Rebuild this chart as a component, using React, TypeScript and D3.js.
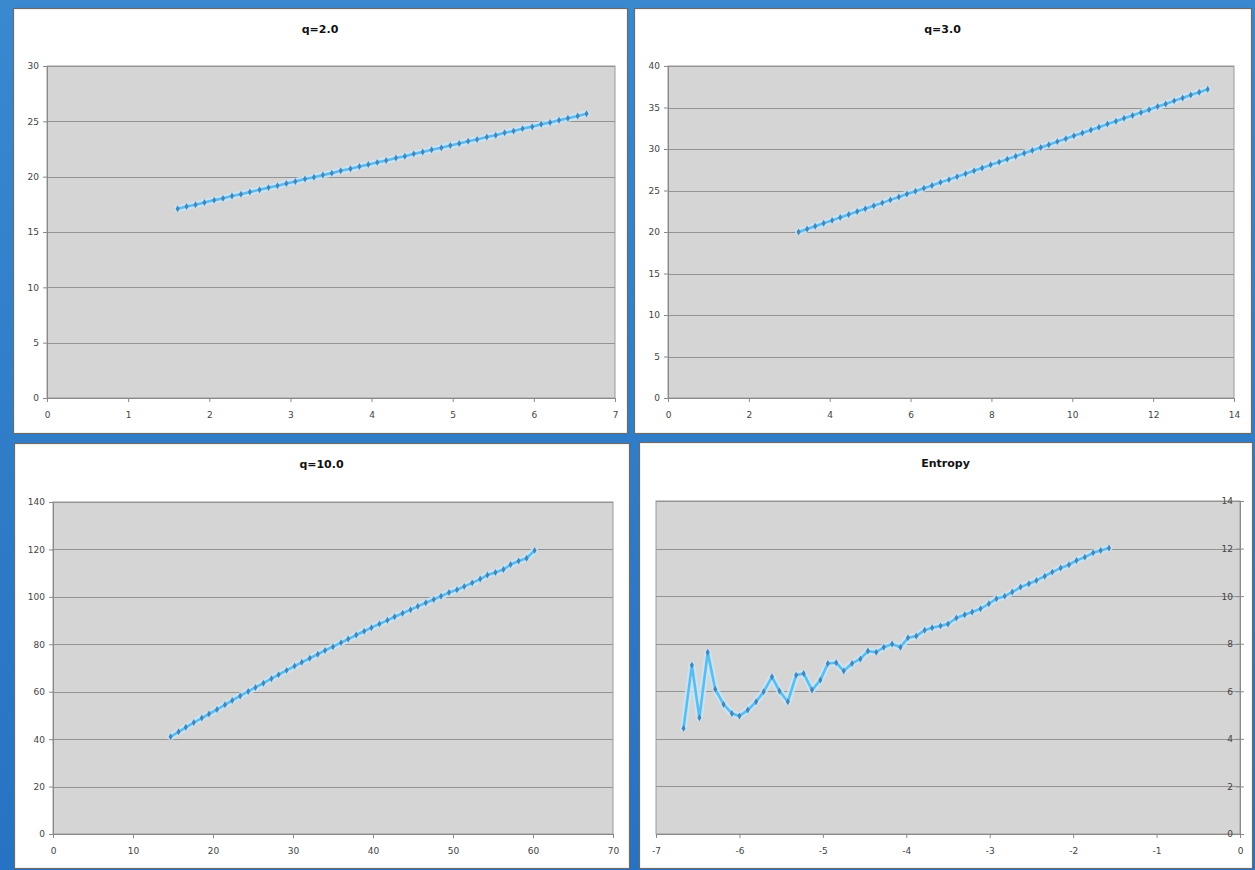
import React, { useEffect, useRef } from 'react';
import * as d3 from 'd3';

// q=2.0
const q2X = [1.61, 1.72, 1.83, 1.94, 2.06, 2.17, 2.28, 2.39, 2.50, 2.62, 2.73, 2.84, 2.95, 3.06, 3.18, 3.29, 3.40, 3.51, 3.62, 3.74, 3.85, 3.96, 4.07, 4.18, 4.30, 4.41, 4.52, 4.63, 4.74, 4.86, 4.97, 5.08, 5.19, 5.30, 5.42, 5.53, 5.64, 5.75, 5.86, 5.98, 6.09, 6.20, 6.31, 6.42, 6.54, 6.65];
const q2Y = [17.10, 17.30, 17.46, 17.66, 17.88, 18.04, 18.25, 18.42, 18.62, 18.81, 19.01, 19.18, 19.39, 19.56, 19.78, 19.95, 20.15, 20.32, 20.53, 20.71, 20.92, 21.09, 21.29, 21.46, 21.68, 21.85, 22.06, 22.22, 22.43, 22.62, 22.82, 22.99, 23.20, 23.36, 23.59, 23.75, 23.96, 24.13, 24.34, 24.52, 24.73, 24.89, 25.10, 25.27, 25.49, 25.68];

// q=3.0
const q3X = [3.23, 3.44, 3.64, 3.85, 4.06, 4.26, 4.47, 4.68, 4.88, 5.09, 5.30, 5.50, 5.71, 5.91, 6.12, 6.33, 6.53, 6.74, 6.95, 7.15, 7.36, 7.57, 7.77, 7.98, 8.19, 8.39, 8.60, 8.81, 9.01, 9.22, 9.42, 9.63, 9.84, 10.04, 10.25, 10.46, 10.66, 10.87, 11.08, 11.28, 11.49, 11.70, 11.90, 12.11, 12.31, 12.52, 12.73, 12.93, 13.14, 13.35];
const q3Y = [20.00, 20.37, 20.69, 21.06, 21.40, 21.76, 22.10, 22.48, 22.80, 23.17, 23.51, 23.87, 24.21, 24.57, 24.90, 25.28, 25.60, 25.98, 26.31, 26.67, 27.01, 27.39, 27.71, 28.09, 28.42, 28.78, 29.12, 29.50, 29.82, 30.19, 30.51, 30.89, 31.23, 31.59, 31.92, 32.30, 32.62, 33.00, 33.34, 33.70, 34.03, 34.41, 34.73, 35.11, 35.43, 35.80, 36.14, 36.50, 36.84, 37.20];

// q=10.0
const q10X = [14.7, 15.7, 16.6, 17.6, 18.6, 19.5, 20.5, 21.5, 22.4, 23.4, 24.4, 25.3, 26.3, 27.3, 28.2, 29.2, 30.2, 31.1, 32.1, 33.1, 34.0, 35.0, 36.0, 36.9, 37.9, 38.9, 39.8, 40.8, 41.8, 42.7, 43.7, 44.7, 45.6, 46.6, 47.6, 48.5, 49.5, 50.5, 51.4, 52.4, 53.4, 54.3, 55.3, 56.3, 57.2, 58.2, 59.2, 60.2];
const q10Y = [41.0, 43.1, 45.0, 47.0, 48.9, 50.6, 52.5, 54.5, 56.3, 58.2, 60.1, 61.8, 63.6, 65.5, 67.2, 69.0, 70.8, 72.4, 74.1, 75.8, 77.4, 79.0, 80.7, 82.2, 83.9, 85.5, 87.0, 88.6, 90.1, 91.6, 93.1, 94.6, 96.0, 97.5, 98.9, 100.3, 101.8, 103.0, 104.4, 105.9, 107.5, 109.2, 110.3, 111.5, 113.6, 115.1, 116.3, 119.6];

// Entropy
const entX = [-6.67, -6.57, -6.48, -6.38, -6.29, -6.19, -6.09, -6.00, -5.90, -5.80, -5.71, -5.61, -5.52, -5.42, -5.32, -5.23, -5.13, -5.03, -4.94, -4.84, -4.75, -4.65, -4.55, -4.46, -4.36, -4.27, -4.17, -4.07, -3.98, -3.88, -3.78, -3.69, -3.59, -3.50, -3.40, -3.30, -3.21, -3.11, -3.01, -2.92, -2.82, -2.73, -2.63, -2.53, -2.44, -2.34, -2.25, -2.15, -2.05, -1.96, -1.86, -1.76, -1.67, -1.57];
const entY = [4.44, 7.10, 4.89, 7.64, 6.09, 5.45, 5.07, 4.96, 5.21, 5.56, 5.98, 6.61, 6.01, 5.56, 6.68, 6.75, 6.05, 6.47, 7.17, 7.20, 6.85, 7.17, 7.36, 7.69, 7.64, 7.85, 7.99, 7.85, 8.25, 8.32, 8.57, 8.67, 8.75, 8.83, 9.08, 9.22, 9.33, 9.47, 9.68, 9.89, 10.0, 10.17, 10.38, 10.52, 10.66, 10.84, 11.01, 11.18, 11.32, 11.5, 11.64, 11.82, 11.92, 12.02];

const titles = ['q=2.0', 'q=3.0', 'q=10.0', 'Entropy'];
const xTicks2 = [0, 1, 2, 3, 4, 5, 6, 7];
const yTicks2 = [0, 5, 10, 15, 20, 25, 30];
const xTicks3 = [0, 2, 4, 6, 8, 10, 12, 14];
const yTicks3 = [0, 5, 10, 15, 20, 25, 30, 35, 40];
const xTicks10 = [0, 10, 20, 30, 40, 50, 60, 70];
const yTicks10 = [0, 20, 40, 60, 80, 100, 120, 140];
const xTicksEnt = [-7, -6, -5, -4, -3, -2, -1, 0];
const yTicksEnt = [0, 2, 4, 6, 8, 10, 12, 14];

const W = 1255;
const H = 870;

const panels = [
  { title: titles[0], xs: q2X, ys: q2Y, xt: xTicks2, yt: yTicks2, box: [13, 8, 627, 433], plot: [47, 66, 615, 398], right: false },
  { title: titles[1], xs: q3X, ys: q3Y, xt: xTicks3, yt: yTicks3, box: [634, 8, 1251, 433], plot: [668, 66, 1234, 398], right: false },
  { title: titles[2], xs: q10X, ys: q10Y, xt: xTicks10, yt: yTicks10, box: [14, 443, 629, 868], plot: [53, 502, 613, 834], right: false },
  { title: titles[3], xs: entX, ys: entY, xt: xTicksEnt, yt: yTicksEnt, box: [639, 442, 1252, 868], plot: [656, 501, 1240, 834], right: true },
];

const fmt = (d: any) => String(d); // keeps a plain hyphen for negatives

const App = () => {
  const svgRef = useRef<SVGSVGElement | null>(null);

  useEffect(() => {
    if (!svgRef.current) return;
    const svg = d3.select(svgRef.current);
    svg.selectAll('*').remove();

    const defs = svg.append('defs');
    const grad = defs.append('linearGradient').attr('id', 'bg').attr('x1', 0).attr('y1', 0).attr('x2', 0).attr('y2', 1);
    grad.append('stop').attr('offset', '0%').attr('stop-color', '#3a88d0');
    grad.append('stop').attr('offset', '100%').attr('stop-color', '#2573c2');

    svg.append('rect').attr('width', W).attr('height', H).attr('fill', 'url(#bg)');

    const fontFam = 'DejaVu Sans, Verdana, sans-serif';

    panels.forEach(p => {
      const [bx0, by0, bx1, by1] = p.box;
      const [px0, py0, px1, py1] = p.plot;
      const g = svg.append('g');

      g.append('rect')
        .attr('x', bx0 + 0.5).attr('y', by0 + 0.5)
        .attr('width', bx1 - bx0).attr('height', by1 - by0)
        .attr('fill', '#ffffff').attr('stroke', '#6b6b6b').attr('stroke-width', 1.2);

      g.append('text')
        .attr('x', (bx0 + bx1) / 2).attr('y', by0 + 25)
        .attr('text-anchor', 'middle')
        .attr('font-family', fontFam)
        .attr('font-weight', 'bold').attr('font-size', 11)
        .attr('fill', '#111')
        .text(p.title);

      const xDom = d3.extent(p.xt) as [number, number];
      const yDom = d3.extent(p.yt) as [number, number];
      const x = d3.scaleLinear().domain(xDom).range([px0, px1]);
      const y = d3.scaleLinear().domain(yDom).range([py1, py0]);

      g.append('rect')
        .attr('x', px0).attr('y', py0)
        .attr('width', px1 - px0).attr('height', py1 - py0)
        .attr('fill', '#d5d5d5').attr('stroke', '#9a9a9a').attr('stroke-width', 1);

      g.append('g').selectAll('line')
        .data(p.yt.slice(1))
        .join('line')
        .attr('x1', px0).attr('x2', px1)
        .attr('y1', d => Math.round(y(d)) + 0.5).attr('y2', d => Math.round(y(d)) + 0.5)
        .attr('stroke', '#939393').attr('stroke-width', 1);

      const xAxis = g.append('g')
        .attr('transform', `translate(0,${py1})`)
        .call(d3.axisBottom(x).tickValues(p.xt).tickSize(4).tickSizeOuter(0).tickFormat(fmt));
      xAxis.select('.domain').attr('stroke', '#8a8a8a');
      xAxis.selectAll('.tick line').attr('stroke', '#8a8a8a');
      xAxis.selectAll('.tick text')
        .attr('font-family', fontFam).attr('font-size', 9).attr('fill', '#444').attr('y', 14);

      const axisX = p.right ? px1 : px0;
      const yAxis = g.append('g')
        .attr('transform', `translate(${axisX},0)`)
        .call(d3.axisLeft(y).tickValues(p.yt).tickSize(4).tickSizeOuter(0).tickFormat(fmt));
      yAxis.select('.domain').attr('stroke', '#8a8a8a');
      yAxis.selectAll('.tick line').attr('stroke', '#8a8a8a').attr('x1', p.right ? 4 : 0);
      yAxis.selectAll('.tick text')
        .attr('font-family', fontFam).attr('font-size', 9).attr('fill', '#444').attr('x', p.right ? -7 : -8);

      const pts = p.xs.map((v, i) => [v, p.ys[i]] as [number, number]);
      const line = d3.line<[number, number]>().x(d => x(d[0])).y(d => y(d[1]));

      // soft halo under the series
      g.append('path').attr('d', line(pts)).attr('fill', 'none')
        .attr('stroke', '#c4e6fa').attr('stroke-width', 7).attr('stroke-opacity', 0.8)
        .attr('stroke-linejoin', 'round').attr('stroke-linecap', 'round');
      g.append('path').attr('d', line(pts)).attr('fill', 'none')
        .attr('stroke', '#5bbcf0').attr('stroke-width', 2.6)
        .attr('stroke-linejoin', 'round');

      const sym = d3.symbol().type(d3.symbolDiamond).size(14);
      g.append('g').selectAll('path')
        .data(pts)
        .join('path')
        .attr('d', sym())
        .attr('transform', d => `translate(${x(d[0])},${y(d[1])})`)
        .attr('fill', '#4a83b4');
    });
  }, []);

  return (
    <svg
      ref={svgRef}
      width={W}
      height={H}
      style={{ position: 'absolute', left: 0, top: 0, display: 'block' }}
    />
  );
};

export default App;
